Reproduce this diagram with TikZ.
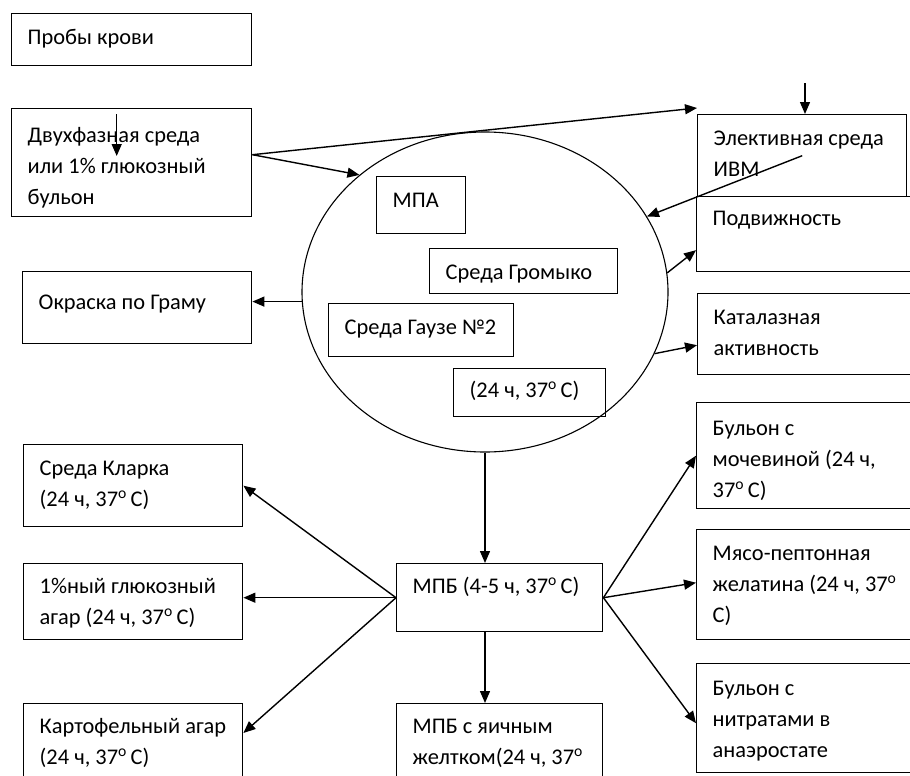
\documentclass[tikz,border=0pt]{standalone}
\usepackage{fontspec}
\setmainfont{Carlito}
\usepackage{tikz}
\usetikzlibrary{positioning,calc,shapes.geometric,arrows.meta}

% text of a box: width, height, extra top space
\newcommand{\celltxt}[4][0]{\parbox[t][\dimexpr#3pt-17.6pt\relax][t]{\dimexpr#2pt-32pt\relax}{\raggedright\vspace*{#1pt}\strut#4}}
\newcommand{\degC}{\textsuperscript{o}\,}

\begin{document}
\begin{tikzpicture}[
  x=1pt, y=-1pt,
  cell/.style={draw, line width=1.4pt, anchor=north west, inner xsep=16pt, inner ysep=8.8pt,
    font=\fontsize{22.4}{31}\selectfont},
  dish/.style={draw, ellipse, line width=1.1pt, minimum width=366pt, minimum height=320pt, inner sep=0pt},
  arrow/.style={-{Triangle[length=12pt,width=10pt]}, line width=1.4pt}
]
\useasboundingbox (0,0) rectangle (910,776);
\clip (0,0) rectangle (910,776);

\node[cell] (probes) at (11,13) {\celltxt{240}{52}{Пробы крови}};
\node[cell] (biph) at (11,108) {\celltxt[3]{240}{108}{Двухфазная среда\\или 1\% глюкозный\\бульон}};
\node[cell] (gram) at (22,271) {\celltxt[7]{229}{72}{Окраска по Граму}};

\node[dish] (oval) at (485,292) {};
\node[cell] (mpa) at (376,176) {\celltxt{89}{57}{МПА}};
\node[cell] (grom) at (429,248) {\celltxt{188}{45}{Среда Громыко}};
\node[cell] (gauze) at (328,303) {\celltxt{185}{53}{Среда Гаузе №2}};
\node[cell] (temp) at (453,368) {\celltxt[-2]{152}{48}{(24 ч, 37\degC С)}};

\node[cell] (motil) at (696,196) {\celltxt[-2]{234}{75}{Подвижность}};
\node[cell] (elect) at (697,114) {\celltxt{209}{82}{Элективная среда\\ИВМ}};
\node[cell] (catal) at (697,293) {\celltxt{233}{81}{Каталазная\\активность}};

\node[cell] (mpb) at (396,563) {\celltxt[-1]{206}{68}{МПБ (4-5 ч, 37\degC С)}};
\node[cell] (yolk) at (396,703) {\celltxt[-1]{206}{100}{МПБ с яичным\\желтком(24 ч, 37\textsuperscript{o}}};

\node[cell] (clark) at (23,444) {\celltxt{219}{82}{Среда Кларка\\(24 ч, 37\degC С)}};
\node[cell] (gluc) at (23,563) {\celltxt[-1]{219}{76}{1\%ный глюкозный\\агар (24 ч, 37\degC С)}};
\node[cell] (potato) at (23,703) {\celltxt[-1]{219}{100}{Картофельный агар\\(24 ч, 37\degC С)}};

\node[cell] (urea) at (696,402) {\celltxt[2]{234}{106}{Бульон с\\мочевиной (24 ч,\\37\degC С)}};
\node[cell] (gelat) at (696,529) {\celltxt{234}{110}{Мясо-пептонная\\желатина (24 ч, 37\textsuperscript{o}\\С)}};
\node[cell] (nitr) at (696,663) {\celltxt[1]{234}{109}{Бульон с\\нитратами в\\анаэростате}};

\coordinate (fork) at ($(biph.east)+(0,-8)$);
\coordinate (drop) at (805,83);

\draw[arrow] ($(biph.north)+(-15,6)$) -- ($(biph.north)+(-15,48)$);
\draw[arrow] (fork) -- ($(elect.north west)+(0,-6)$);
\draw[arrow] (fork) -- (oval.137.6);
\draw[arrow] (drop) -- (drop |- elect.north);
\draw[arrow] (elect.center) -- (oval.25.4);
\draw[arrow] (oval.6.6) -- ($(motil.west)+(0,16)$);
\draw[arrow] (oval.-20.9) -- ($(catal.west)+(0,11)$);
\draw[arrow] (oval.183.4) -- (oval.183.4 -| gram.east);

\draw[arrow] (oval.south) -- (oval.south |- mpb.north);
\draw[arrow] (oval.south |- mpb.south) -- (oval.south |- yolk.north);
\draw[arrow] (mpb.west) -- (clark.east);
\draw[arrow] (mpb.west) -- (mpb.west -| gluc.east);
\draw[arrow] (mpb.west) -- ($(potato.north east)+(0,30)$);
\draw[arrow] (mpb.east) -- (urea.west);
\draw[arrow] (mpb.east) -- ($(gelat.west)+(0,-2)$);
\draw[arrow] (mpb.east) -- ($(nitr.west)+(0,5)$);

\end{tikzpicture}
\end{document}
